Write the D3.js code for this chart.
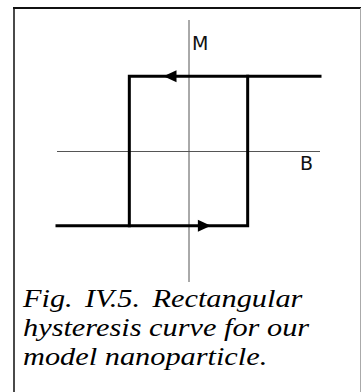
<!DOCTYPE html>
<html>
<head>
<meta charset="utf-8">
<script src="https://cdn.jsdelivr.net/npm/d3@7/dist/d3.min.js"></script>
<style>
  html, body { margin: 0; padding: 0; background: #fff; }
  svg { display: block; }
</style>
</head>
<body>
<svg id="fig" width="361" height="392"></svg>
<script>
// Idealised rectangular loop: saturation magnetisation and coercive field (normalised units)
const Ms = 0.57;
const Hc = 0.45;

// Two branches of the loop: field sweeping down, then field sweeping up
const descendingB = [1, -Hc, -Hc];
const descendingM = [Ms, Ms, -Ms];
const ascendingB  = [-1, Hc, Hc];
const ascendingM  = [-Ms, -Ms, Ms];

// Direction arrows along the saturated segments: [B, M, direction]
const arrowB   = [-0.19, 0.17];
const arrowM   = [Ms, -Ms];
const arrowDir = [-1, 1];

const axisLabels = ["B", "M"];
const captionLines = [
  "Fig. IV.5. Rectangular",
  "hysteresis curve for our",
  "model nanoparticle."
];

const svg = d3.select("#fig");

// Frame
svg.append("line").attr("x1", 14).attr("y1", 8).attr("x2", 14).attr("y2", 392)
  .attr("stroke", "#4a4a4a").attr("stroke-width", 2);
svg.append("line").attr("x1", 13).attr("y1", 8).attr("x2", 361).attr("y2", 8)
  .attr("stroke", "#111").attr("stroke-width", 2);
svg.append("line").attr("x1", 360.5).attr("y1", 8).attr("x2", 360.5).attr("y2", 392)
  .attr("stroke", "#aaa").attr("stroke-width", 1);

const x = d3.scaleLinear().domain([-1, 1]).range([57, 320]);
const y = d3.scaleLinear().domain([-1, 1]).range([282, 20]);

// Axes through the origin
svg.append("line")
  .attr("x1", x(-1)).attr("x2", x(1)).attr("y1", y(0) + 0.5).attr("y2", y(0) + 0.5)
  .attr("stroke", "#555").attr("stroke-width", 1);
svg.append("line")
  .attr("x1", x(0) + 0.5).attr("x2", x(0) + 0.5).attr("y1", y(1)).attr("y2", y(-1))
  .attr("stroke", "#555").attr("stroke-width", 1);

svg.append("text").text(axisLabels[0])
  .attr("x", 300).attr("y", 170)
  .attr("font-family", "DejaVu Sans").attr("font-size", 19).attr("fill", "#111");
svg.append("text").text(axisLabels[1])
  .attr("x", 192).attr("y", 50)
  .attr("font-family", "DejaVu Sans").attr("font-size", 19).attr("fill", "#111");

// Loop branches
const line = d3.line().x(d => x(d[0])).y(d => y(d[1]));
const branches = [
  d3.zip(descendingB, descendingM),
  d3.zip(ascendingB, ascendingM)
];
svg.selectAll("path.branch").data(branches).join("path")
  .attr("class", "branch")
  .attr("d", line)
  .attr("fill", "none")
  .attr("stroke", "#000")
  .attr("stroke-width", 3)
  .attr("stroke-linejoin", "miter")
  .attr("stroke-linecap", "square");

// Arrowheads
const arrows = d3.zip(arrowB, arrowM, arrowDir);
svg.selectAll("path.arrow").data(arrows).join("path")
  .attr("class", "arrow")
  .attr("d", d => {
    const tx = x(d[0]), ty = y(d[1]), dir = d[2];
    const bx = tx - dir * 13;
    return `M${tx},${ty} L${bx},${ty - 6} L${bx},${ty + 6} Z`;
  })
  .attr("fill", "#000");

// Caption in a slightly wide italic serif, set like a justified column
const caption = svg.append("g").attr("transform", "translate(23,0) scale(1.19,1)");
caption.selectAll("text").data(captionLines).join("text")
  .attr("x", 0)
  .attr("y", (d, i) => 307 + i * 29)
  .attr("font-family", "Liberation Serif")
  .attr("font-style", "italic")
  .attr("font-size", 25.5)
  .attr("word-spacing", (d, i) => i === 0 ? 4 : 0)
  .attr("fill", "#000")
  .text(d => d);
</script>
</body>
</html>
